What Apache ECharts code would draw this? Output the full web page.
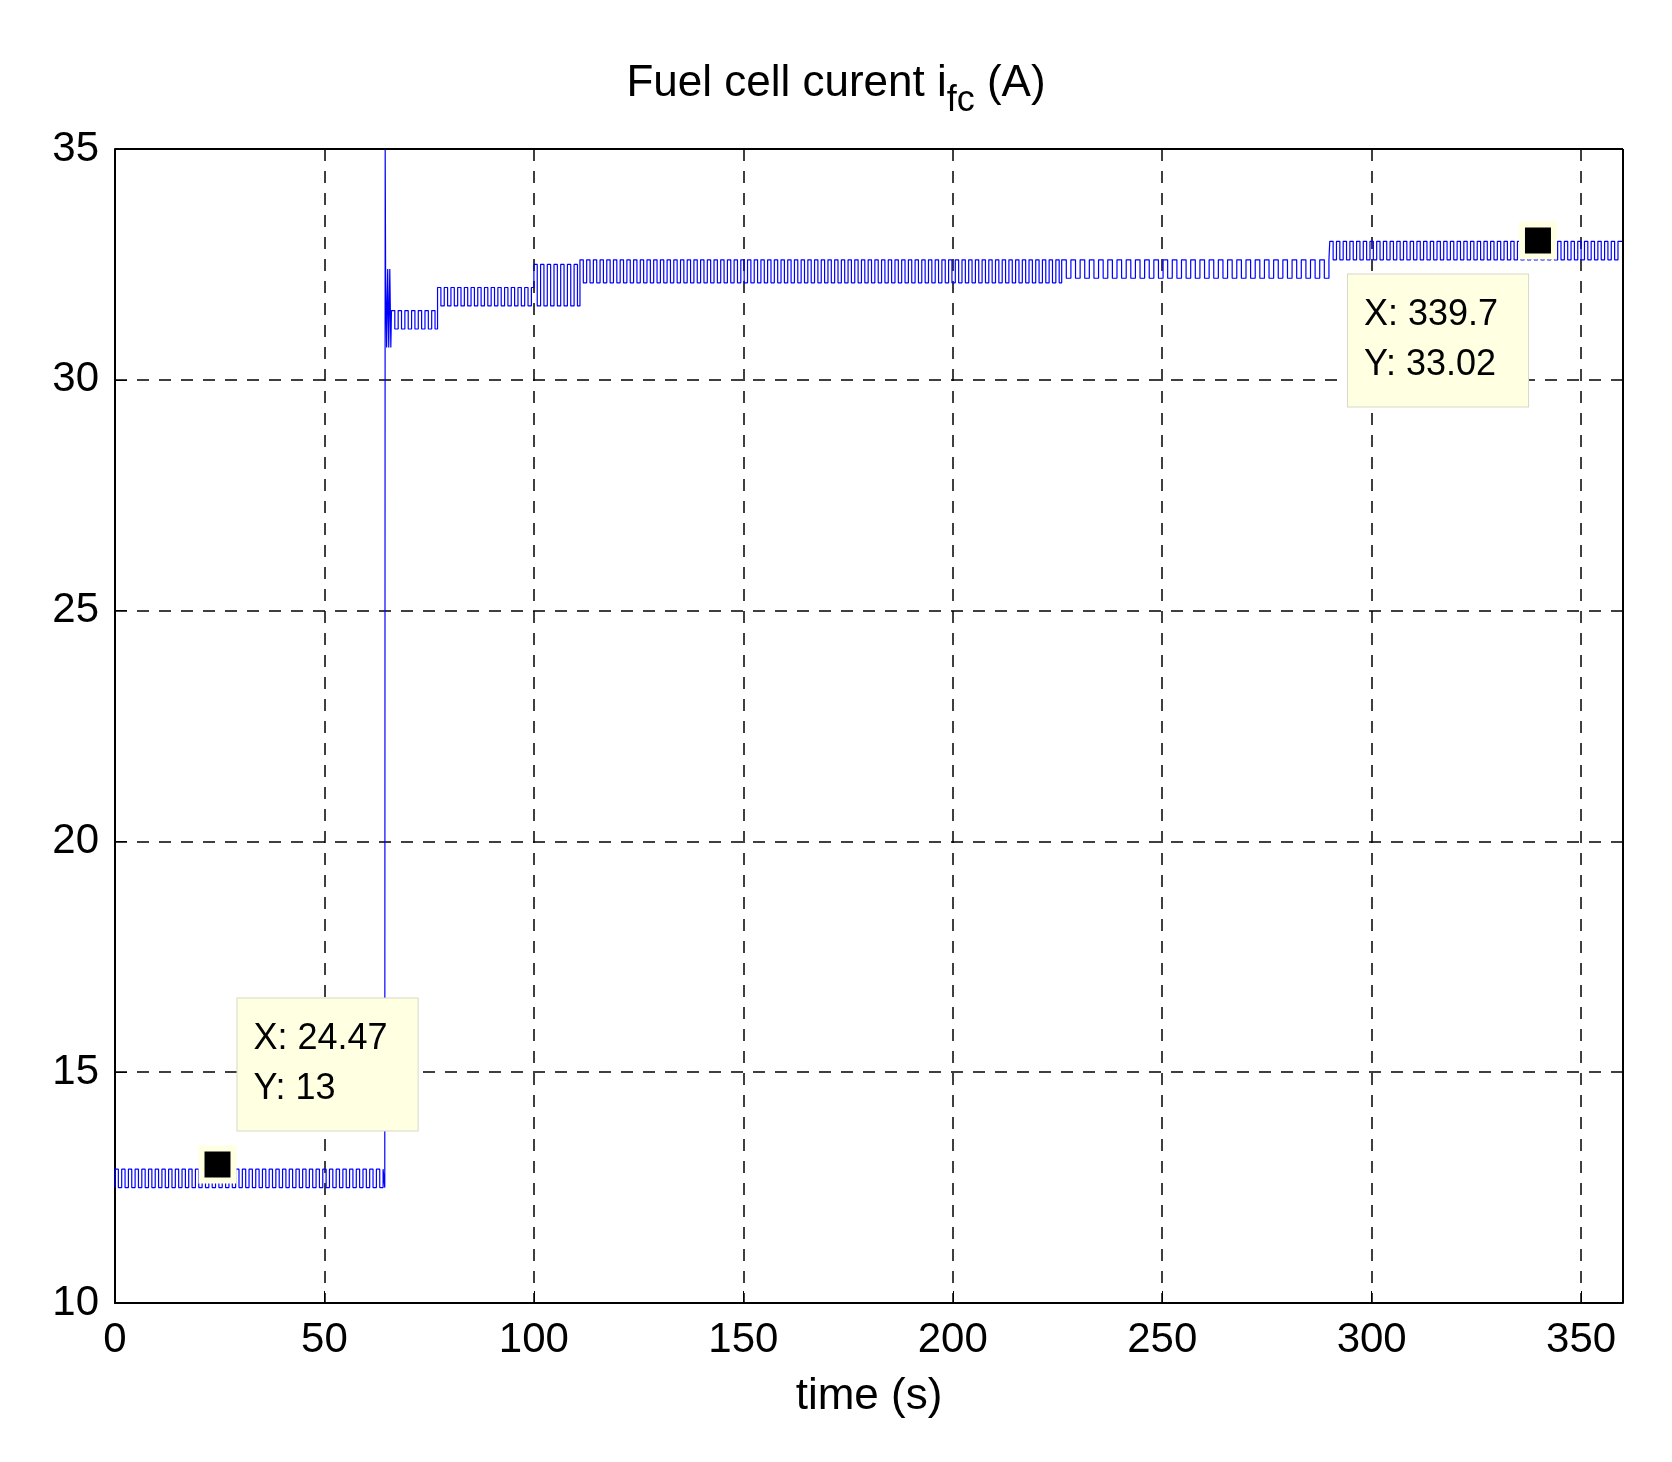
<!DOCTYPE html>
<html><head><meta charset="utf-8">
<script src="https://cdn.jsdelivr.net/npm/echarts@6/dist/echarts.min.js"></script>
<style>body{margin:0;background:#fff}#c{width:1672px;height:1462px}</style>
</head><body><div id="c"></div>
<script>
// quantized current bands: [start s, end s, low A, high A, toggle period s]
var bandStart = [0, 64.6, 66, 77, 100, 111, 226, 290];
var bandEnd = [64.4, 66, 77, 100, 111, 226, 290, 360];
var bandLow = [12.5, 30.7, 31.1, 31.6, 31.6, 32.1, 32.2, 32.6];
var bandHigh = [12.9, 32.4, 31.5, 32.0, 32.5, 32.6, 32.6, 33.0];
var bandPeriod = [1.6, 0.5, 1.6, 1.6, 1.6, 1.6, 2.2, 1.6];
var spikeTime = [64.4, 64.5];
var spikeValue = [12.5, 35];
var tipX = [24.47, 339.7];
var tipY = [13, 33.02];
var xTicks = [0, 50, 100, 150, 200, 250, 300, 350];

var pts = [[0, bandLow[0]]];
for (var b = 0; b < bandStart.length; b++) {
    if (b == 1) { for (var s = 0; s < spikeTime.length; s++) pts.push([spikeTime[s], spikeValue[s]]); }
    var hi = true;
    for (var t = bandStart[b]; t < bandEnd[b]; t += bandPeriod[b] / 2) {
        pts.push([t, hi ? bandHigh[b] : bandLow[b]]);
        hi = !hi;
    }
}
pts[pts.length - 1] = [360, 32.6];

var chart = echarts.init(document.getElementById('c'));
var font = 'Liberation Sans, Arial, sans-serif';
function tip(i, pos, off) {
    return {
        value: [tipX[i], tipY[i]],
        label: {
            show: true, position: pos, offset: off, align: 'left',
            formatter: 'X: ' + tipX[i] + '\nY: ' + tipY[i],
            backgroundColor: '#ffffe1', borderColor: '#d8d8c8', borderWidth: 1,
            padding: [16, 30, 16, 16], lineHeight: 50, fontSize: 36, color: '#000', fontFamily: font
        }
    };
}
chart.setOption({
    animation: false,
    title: {
        text: 'Fuel cell curent i{sub|fc} (A)', left: 'center', top: 44,
        textStyle: { fontSize: 44, fontWeight: 'normal', color: '#000', fontFamily: font,
            rich: { sub: { fontSize: 36, verticalAlign: 'bottom', padding: [34, 0, 0, 0], fontFamily: font } } }
    },
    grid: { left: 115, right: 49, top: 149, bottom: 159 },
    xAxis: {
        type: 'value', min: 0, max: 360, interval: 50,
        name: 'time (s)', nameLocation: 'middle', nameGap: 72,
        nameTextStyle: { fontSize: 44, color: '#000', fontFamily: font },
        axisLine: { lineStyle: { color: '#000', width: 2 } },
        axisTick: { inside: true, length: 12, lineStyle: { color: '#000' } },
        axisLabel: { fontSize: 42, color: '#000', fontFamily: font, margin: 16,
            formatter: function (v) { return xTicks.indexOf(v) >= 0 ? v : ''; } },
        splitLine: { show: true, lineStyle: { color: '#000', type: [12, 10], width: 1.5 } }
    },
    yAxis: {
        type: 'value', min: 10, max: 35, interval: 5,
        axisLine: { show: true, lineStyle: { color: '#000', width: 2 } },
        axisTick: { inside: true, length: 12, lineStyle: { color: '#000' } },
        axisLabel: { fontSize: 42, color: '#000', fontFamily: font, margin: 16 },
        splitLine: { show: true, lineStyle: { color: '#000', type: [12, 10], width: 1.5 } }
    },
    series: [{
        type: 'line', step: 'end', data: pts, showSymbol: false,
        lineStyle: { color: '#0000ff', width: 1.2 }
    }, {
        type: 'scatter', symbol: 'rect', symbolSize: 32,
        itemStyle: { color: '#000', borderColor: '#ffffe1', borderWidth: 6, opacity: 1 },
        data: [tip(0, 'top', [20, -10]), tip(1, 'bottom', [-190, 10])], z: 10
    }, {
        type: 'line', data: [[360, 10], [360, 35]], showSymbol: false, silent: true,
        lineStyle: { color: '#000', width: 2 }
    }, {
        type: 'line', data: [[0, 35], [360, 35]], showSymbol: false, silent: true,
        lineStyle: { color: '#000', width: 2 }
    }]
});
</script></body></html>
